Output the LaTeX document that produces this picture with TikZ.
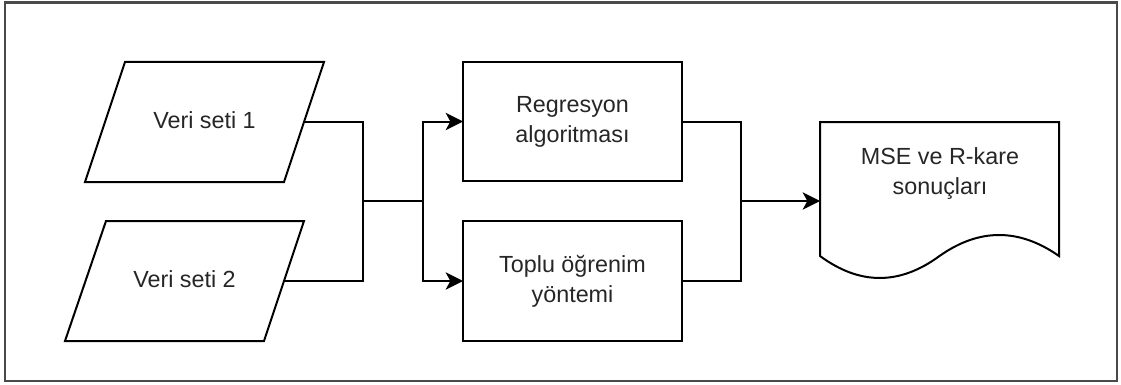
\documentclass[tikz,border=0pt]{standalone}
\usepackage{fontspec}
\setmainfont{Liberation Sans}
\usetikzlibrary{arrows.meta}
\definecolor{tcol}{HTML}{262626}
\definecolor{fcol}{HTML}{4A4A4A}
\begin{document}
\begin{tikzpicture}[x=0.75pt,y=-0.75pt,
  lbl/.style={text=tcol,font=\fontsize{17.5pt}{22.5pt}\selectfont,align=center,inner sep=0pt},
  proc/.style={draw,line width=1.5pt,minimum width=164.25pt,inner sep=0pt,outer sep=0pt,text=tcol,font=\fontsize{17.5pt}{22.5pt}\selectfont,align=center},
  shp/.style={draw,line width=1.5pt,line join=miter},
  wire/.style={line width=1.5pt},
  arr/.style={line width=1.5pt,-{Stealth[length=13pt,width=13pt,inset=3.5pt]}}]
\useasboundingbox (0,0) rectangle (1121,385);
\draw[fcol,line width=1.6pt] (5,2.5) rectangle (1117,381);
% data parallelograms
\draw[shp] (125,62) -- (324,62) -- (284,182) -- (85,182) -- cycle;
\draw[shp] (106,221) -- (304,221) -- (264,341) -- (65,341) -- cycle;
\node[lbl] (v1) at (204.5,120) {Veri seti 1};
\node[lbl] (v2) at (184.5,279) {Veri seti 2};
\coordinate (p1e) at (304,122);
\coordinate (p2e) at (284,281);
% process boxes
\node[proc,minimum height=89.25pt] (r) at (572.5,121.5) {Regresyon\\algoritması};
\node[proc,minimum height=90pt] (t) at (572.5,281) {Toplu öğrenim\\yöntemi};
% document
\draw[shp] (820,122) -- (1059,122) -- (1059,256)
  .. controls (1019,228) and (979.2,228) .. (939.5,256)
  .. controls (899.6,285.3) and (859.8,285.3) .. (820,256) -- cycle;
\node[lbl] (d) at (940,174) {MSE ve R-kare\\sonuçları};
\coordinate (dw) at (820,201);
% junctions
\coordinate (ja) at (363,201);
\coordinate (jb) at (423,201);
\coordinate (jc) at (741,201);
% connectors
\draw[wire] (p1e) -| (ja);
\draw[wire] (p2e) -| (ja);
\draw[wire] (ja) -- (jb);
\draw[arr] (jb) |- (r.west);
\draw[arr] (jb) |- (t.west);
\draw[wire] (r.east) -| (jc);
\draw[wire] (t.east) -| (jc);
\draw[arr] (jc) -- (dw);
\end{tikzpicture}
\end{document}
